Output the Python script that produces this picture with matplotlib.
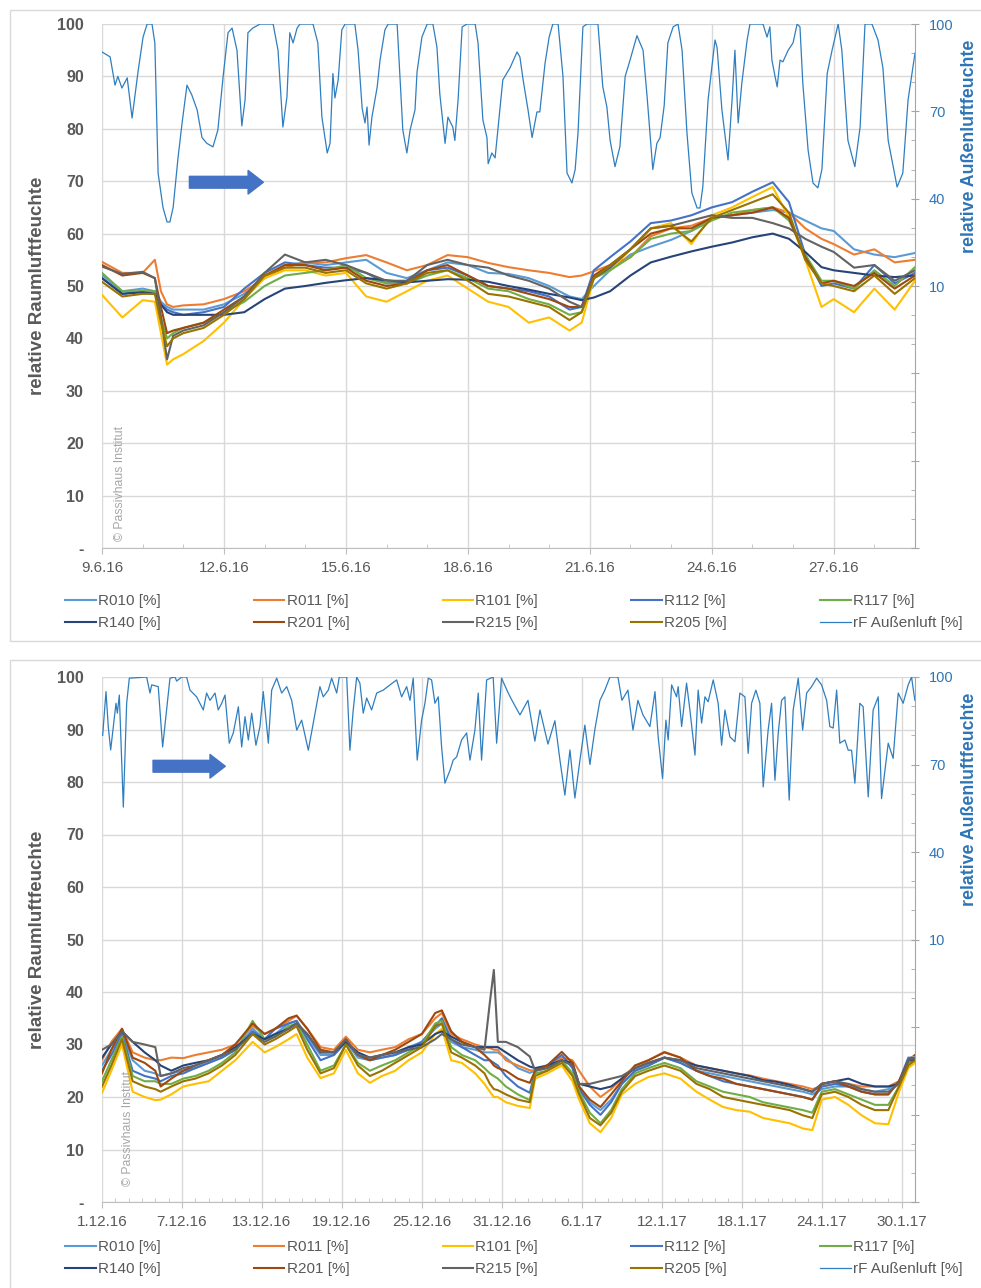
import matplotlib.pyplot as plt
from matplotlib.patches import Rectangle, FancyArrowPatch
from matplotlib.ticker import FixedLocator, MultipleLocator

plt.rcParams['font.family'] = ['Liberation Sans', 'DejaVu Sans']

# ---------------- June 2016 (days since 9.6.16) ----------------
jun_t = [0, 0.5, 1.0, 1.3, 1.45, 1.6, 1.75, 2.0, 2.5, 3.0,
         3.5, 4.0, 4.5, 5.0, 5.5, 6.0, 6.5, 7.0, 7.5, 8.0,
         8.5, 9.0, 9.5, 10.0, 10.5, 11.0, 11.5, 11.8, 12.1, 12.5,
         13.0, 13.5, 14.0, 14.5, 15.0, 15.5, 16.0, 16.5, 16.9, 17.3,
         17.7, 18.0, 18.5, 19.0, 19.5, 20.0]
jun_r010 = [52.1, 49, 49.5, 49, 47, 46, 45.5, 45.5, 45.5, 46.5,
            48.5, 51.5, 54, 54.5, 54, 54.5, 55, 52.5, 51.5, 53,
            54.5, 54, 52.5, 52.3, 51.5, 50, 48, 47.5, 50, 53,
            56, 57.5, 58.8, 60.5, 63, 63.5, 64, 64.5, 64, 62.5,
            61, 60.5, 57, 56, 55.5, 56.3]
jun_r011 = [54.6, 52.5, 52.5, 55, 49, 46.5, 46, 46.3, 46.5, 47.5,
            49, 51.5, 53.5, 54.5, 54.5, 55.3, 55.9, 54.5, 53, 54,
            55.9, 55.5, 54.4, 53.6, 53, 52.5, 51.7, 52, 52.8, 54,
            55.5, 59.5, 61, 61.5, 63, 63.5, 64.5, 65, 64, 61,
            59, 58, 56, 57, 54.5, 55]
jun_r101 = [48.3, 44, 47.3, 47, 41, 35, 36, 37, 39.5, 43,
            47.5, 51.5, 53, 53, 52, 52.5, 48, 47, 49, 51,
            52, 49.5, 47, 46, 43, 44, 41.5, 43, 51.5, 53,
            57, 61, 62, 58, 63.5, 65, 67, 68.9, 63, 55,
            46, 47.5, 45, 49.5, 45.5, 51]
jun_r112 = [51.5, 48.5, 49, 48.5, 46.5, 45.5, 45, 44.5, 45, 46,
            49.5, 52.5, 54.5, 54, 53.5, 53.5, 52.5, 50.5, 51, 53,
            53.5, 52, 50, 49.5, 49, 48, 45.5, 46, 53, 55.5,
            58.5, 62, 62.5, 63.5, 65, 66, 68, 69.8, 66, 56,
            50, 50.5, 49.5, 54, 50.5, 52.5]
jun_r117 = [52.5, 49, 49, 49, 44, 40, 41, 42, 43, 45,
            47, 50, 52, 52.5, 53, 54, 51.5, 50.5, 50.5, 52,
            53, 51.5, 49.5, 49, 47.5, 46.5, 44.5, 45, 51.5, 53,
            55.5, 59, 60, 60.5, 62.5, 64, 64.5, 65, 62.5, 56,
            51, 51, 49.5, 53, 50, 53.6]
jun_r140 = [51.5, 48.5, 48.8, 48.5, 46.5, 45, 44.5, 44.5, 44.5, 44.5,
            45, 47.5, 49.5, 50, 50.6, 51.1, 51.5, 51.1, 50.7, 51,
            51.3, 51.2, 50.8, 50, 49.3, 48.5, 47.8, 47.3, 47.8, 49,
            52, 54.5, 55.6, 56.6, 57.5, 58.3, 59.3, 60, 59, 56.5,
            53.6, 53, 52.5, 52, 51.7, 52]
jun_r201 = [54, 52, 52.5, 51.5, 46, 41, 41.5, 42, 43, 45.5,
            48, 52, 54, 54, 53, 53.5, 51, 50, 50.5, 53,
            54, 52, 50, 49.5, 48.5, 47.5, 46, 46, 52, 54,
            57, 60, 61, 61, 63, 63.5, 64, 65, 63, 55.5,
            50.5, 51, 50, 52.5, 49.5, 52]
jun_r215 = [53.7, 52.3, 52.7, 51.5, 44, 36, 40.5, 41.5, 42.5, 45,
            48, 52.5, 56, 54.5, 55, 54, 52.5, 51, 51, 54,
            55, 54, 53.5, 52, 51, 49.5, 47, 46, 51.5, 53.5,
            57, 61, 61.5, 62.5, 63.5, 63, 63, 62, 61, 59,
            57.5, 56.5, 53.5, 54, 51, 53]
jun_r205 = [50.8, 48, 48.5, 48.5, 43, 38.5, 40, 41, 42, 44.5,
            47.5, 52, 53.5, 53.5, 52.5, 53, 50.5, 49.5, 50.5, 52.5,
            53, 51, 48.5, 48, 47, 46, 43.5, 45, 51.5, 54,
            57, 61, 61.5, 58.5, 63, 64.5, 66, 67.5, 64, 55,
            50.5, 50, 49, 52, 48.5, 51.5]

jun_out_t = [0.0, 0.2, 0.32, 0.39, 0.49, 0.62, 0.74, 0.89, 1.01, 1.11,
             1.23, 1.30, 1.38, 1.50, 1.60, 1.67, 1.75, 1.87, 1.97, 2.09,
             2.21, 2.34, 2.46, 2.58, 2.73, 2.85, 2.98, 3.10, 3.20, 3.32,
             3.44, 3.52, 3.59, 3.71, 3.89, 4.21, 4.33, 4.45, 4.55, 4.62,
             4.70, 4.80, 4.87, 5.19, 5.31, 5.41, 5.54, 5.61, 5.68, 5.73,
             5.81, 5.90, 5.98, 6.22, 6.30, 6.40, 6.47, 6.52, 6.57, 6.64,
             6.77, 6.84, 6.96, 7.04, 7.26, 7.33, 7.40, 7.50, 7.58, 7.70,
             7.75, 7.87, 8.00, 8.14, 8.24, 8.31, 8.44, 8.51, 8.63, 8.68,
             8.76, 8.86, 8.98, 9.18, 9.25, 9.37, 9.47, 9.50, 9.59, 9.67,
             9.79, 9.86, 10.04, 10.21, 10.28, 10.36, 10.48, 10.58, 10.70, 10.77,
             10.90, 11.00, 11.09, 11.22, 11.34, 11.44, 11.56, 11.64, 11.71, 11.83,
             11.93, 12.20, 12.32, 12.42, 12.50, 12.62, 12.74, 12.87, 12.99, 13.16,
             13.31, 13.41, 13.55, 13.65, 13.73, 13.83, 13.92, 14.05, 14.17, 14.27,
             14.39, 14.51, 14.64, 14.71, 14.78, 14.91, 15.08, 15.13, 15.25, 15.40,
             15.50, 15.57, 15.65, 15.74, 15.87, 15.94, 16.26, 16.36, 16.43, 16.48,
             16.56, 16.61, 16.68, 16.75, 16.88, 17.00, 17.10, 17.17, 17.24, 17.37,
             17.49, 17.61, 17.71, 17.84, 17.96, 18.11, 18.20, 18.35, 18.52, 18.65,
             18.77, 18.94, 19.09, 19.21, 19.34, 19.56, 19.70, 19.83, 20.0]
jun_out = [90.4, 88.7, 79, 82, 78, 81.5, 67.7, 84, 95.5, 100,
           100, 93.5, 48.8, 37, 32, 32, 37, 54, 66, 79,
           75.6, 70.5, 61, 59, 57.8, 63.6, 82, 97, 98.6, 91,
           65, 74, 97, 98.6, 100, 100, 91, 64.6, 75, 97,
           93.5, 98.6, 100, 100, 93.5, 68, 55.7, 59, 83, 74.6,
           80.8, 98, 100, 100, 91, 71, 66, 71.5, 58.4, 68,
           78.4, 87.6, 98, 100, 100, 82, 63.6, 55.7, 63.6, 70.5,
           83.5, 95.5, 100, 100, 92, 76, 59, 68, 64.6, 60,
           74, 99, 100, 100, 93.5, 67, 61, 52, 55.7, 54,
           71, 80.8, 85, 90.4, 88.7, 80.8, 70.5, 61, 69.8, 69.8,
           86.6, 95.5, 100, 100, 82, 48.8, 45.4, 50, 62.6, 99,
           100, 100, 78.4, 71.5, 60, 51, 57.8, 82, 87.6, 96,
           91, 75, 50, 59, 61, 72, 93.5, 99, 100, 91,
           62.6, 42, 36.8, 36.8, 44, 74, 94.5, 92, 70.5, 53.3,
           74, 91, 66, 79.7, 94.5, 100, 100, 95.5, 99, 87.6,
           81.8, 78.4, 87.6, 87, 91, 93.5, 100, 99, 79.7, 56.7,
           45.4, 43.7, 50, 83, 91, 100, 91, 60, 51, 64.6,
           100, 100, 94.5, 85, 60, 44, 48.8, 74, 90]

jun_ticks = [0, 3, 6, 9, 12, 15, 18]
jun_labels = ['9.6.16', '12.6.16', '15.6.16', '18.6.16', '21.6.16', '24.6.16', '27.6.16']

# ---------------- Dec 2016 / Jan 2017 (days since 1.12.16) ----------------
dec_t = [0, 0.7, 1.5, 2.3, 3.2, 4.0, 4.4, 5.2, 6.1, 7.0, 8.0, 9.0,
         10.0, 11.3, 12.2, 13.0, 14.0, 14.6, 15.4, 16.4, 17.4, 18.3, 19.2, 20.1,
         21.0, 22.0, 23.0, 24.0, 25.0, 25.5, 26.2, 27.0, 28.0, 28.7, 29.1, 29.4,
         29.7, 30.3, 31.2, 32.1, 32.5, 33.4, 34.5, 35.3, 35.8, 36.6, 37.4, 38.2,
         39.0, 40.0, 41.0, 42.2, 43.4, 44.6, 45.6, 46.6, 47.6, 48.6, 49.6, 50.6,
         51.6, 52.6, 53.3, 54.0, 55.0, 56.0, 57.0, 58.0, 59.0, 59.8, 60.5, 61.0]
dec_r010 = [26, 29, 32, 27, 25, 24.5, 24, 24.5, 25, 25.5, 26.5, 27.5,
            29, 33, 31, 32, 34, 34.5, 31.5, 28, 28, 30.5, 27.5, 27,
            27.5, 28, 29.5, 30.5, 33, 34, 30.5, 29.5, 29, 28.5, 28.5, 28.5,
            28.5, 27.5, 25.5, 24.6, 25, 25.5, 27, 26, 22, 19, 17.5, 19.5,
            22.5, 25, 26, 27.5, 26.5, 25, 24.5, 24, 23.5, 23, 22.5, 22,
            21.5, 21, 20.5, 21.5, 22, 22, 21.5, 21, 21.5, 23, 26.5, 27]
dec_r011 = [27, 30.5, 33, 28.5, 27.5, 27, 27, 27.5, 27.4, 28, 28.5, 29,
            30, 33.5, 32, 33, 34.5, 35.5, 33, 29.5, 29, 31.5, 29, 28.5,
            29, 29.5, 31, 32, 35, 36, 32, 31, 30, 29.5, 29.3, 29,
            29, 27, 26, 25.1, 25, 26, 27.5, 27, 25, 22, 20, 21.5,
            23.5, 26, 27, 28.6, 27.5, 26, 25.5, 25, 24.5, 24.1, 23.5, 23,
            22.5, 22, 21.5, 22, 22.5, 22.5, 22, 22, 22, 23, 26.5, 27.5]
dec_r101 = [20.8, 25, 30, 21, 20, 19.4, 19.5, 20.5, 22, 22.5, 23, 25,
            27, 30.5, 28.5, 29.5, 31, 32, 27.5, 23.6, 24.5, 29, 24.5, 22.7,
            24, 25, 27, 28.5, 32, 33, 27, 26.5, 24.5, 22.5, 21, 20,
            20, 19, 18.3, 17.9, 23.5, 24.5, 26, 23, 19.5, 15, 13.3, 16,
            20.5, 22.5, 23.8, 24.5, 23.5, 21, 19.5, 18.1, 17.5, 17.2, 16, 15.5,
            15, 14, 13.7, 19.5, 20, 18.5, 16.5, 15, 14.8, 21, 25.5, 26.5]
dec_r112 = [25, 28, 32, 25, 24, 23.5, 23, 24, 24.5, 25.5, 26.5, 27.5,
            29, 32.5, 31, 33, 34, 34.5, 31, 27, 28, 30.5, 28, 27,
            27.5, 28, 29, 30.5, 33.5, 35, 31, 29.5, 28, 27, 27, 26.5,
            26, 24, 22, 20.8, 25, 26, 28, 25.5, 21.5, 18.5, 16.6, 19,
            22.5, 25, 26, 27.5, 26.5, 25, 24, 23, 22.5, 22, 21.5, 21,
            20.5, 20, 19.5, 22, 22.5, 22, 21, 20.5, 20.5, 23, 27.5, 27.5]
dec_r117 = [23, 27, 31.5, 24, 23, 23, 22.5, 22.5, 23.5, 24, 25, 26.5,
            28.5, 34.5, 31, 31.5, 33.5, 34, 30, 25, 26, 30, 26.5, 25,
            26, 27, 28.5, 30, 34, 34.5, 29.5, 28, 27, 25.5, 24.5, 24,
            23.5, 22, 20.5, 19.4, 24.5, 25, 27, 24.5, 21, 17, 15, 17.5,
            21.5, 24.5, 25.5, 26.5, 25.5, 23, 22, 21, 20.5, 20, 19, 18.5,
            18, 17.5, 17, 21, 21.5, 20.5, 19.5, 18.5, 18.5, 22, 26.5, 27]
dec_r140 = [27.5, 30, 32.5, 30.5, 28.5, 27, 26, 25, 26, 26.5, 27, 28,
            29.5, 32, 31, 32, 33, 34, 32, 28.5, 28.5, 30.5, 28.5, 27.5,
            28, 28.5, 29.5, 30, 32, 32.5, 31.5, 30.5, 29.5, 29.5, 29.5, 29.5,
            29.5, 28.5, 27, 25.8, 25.5, 26, 27, 26.5, 22.5, 22, 21.5, 22,
            23.5, 25.5, 26.5, 27.5, 27, 26, 25.5, 25, 24.5, 24, 23.2, 22.9,
            22.3, 21.5, 21, 22.5, 23, 23.5, 22.5, 22, 22, 22.5, 27, 27]
dec_r201 = [24.5, 29, 33, 27.5, 26.5, 25, 22, 23.5, 25, 26, 27, 28,
            30, 34, 32, 33, 35, 35.5, 33, 29, 28.5, 31, 28, 27,
            28, 29, 30.5, 32, 36, 36.5, 32.5, 30.5, 29.5, 28, 27, 26,
            25.5, 25, 23.5, 22.7, 25, 26, 28.6, 26.5, 22, 19.5, 18.1, 20.5,
            23, 26, 27, 28.5, 27.5, 25, 24, 23.5, 22.5, 22, 21.5, 21,
            20.5, 20, 19.5, 22.5, 23, 22, 21, 20.5, 20.5, 23, 27, 28]
dec_r215 = [29, 30, 32.5, 30.5, 30, 29.5, 24, 24.5, 25.5, 26, 27, 28,
            29, 32, 30.5, 31.5, 33, 34, 32, 28.5, 28.5, 31, 28, 27.5,
            28, 28.5, 29, 29.5, 31, 32, 31, 30, 29.5, 29, 38, 44.2,
            30.5, 30.5, 29.5, 27.7, 25, 25.5, 27, 26, 22.5, 22.5, 23, 23.5,
            24, 25.5, 26.5, 27.5, 27, 25.5, 25, 24.5, 24, 23.5, 23, 22.5,
            22, 21.5, 21, 22.5, 23, 22.5, 21.5, 21, 21, 22.5, 27, 27.5]
dec_r205 = [22, 26, 31, 23, 22, 21.5, 21, 22, 23, 23.5, 24.5, 26,
            28, 32, 30, 31, 32.5, 33.5, 29, 24.5, 25.5, 30, 26, 24,
            25, 26.5, 28, 29.5, 33.5, 34, 28.5, 27.5, 26, 24.5, 22.5, 21.5,
            21.3, 20.5, 19.5, 19, 24, 25, 26.5, 24, 20.5, 16, 14.6, 17,
            21, 24, 25, 26, 25, 22.5, 21.5, 20, 19.5, 19, 18.5, 18,
            17.5, 16.5, 16, 20.5, 21, 20, 18.5, 17.5, 17.5, 22, 26, 27]

dec_out_t = [0.05, 0.30, 0.47, 0.65, 0.85, 1.05, 1.15, 1.30, 1.60, 1.85,
             2.05, 3.35, 3.60, 3.73, 4.22, 4.55, 4.85, 5.10, 5.48, 5.60,
             5.98, 6.35, 6.60, 7.10, 7.60, 7.85, 8.10, 8.48, 8.72, 8.98,
             9.23, 9.55, 9.85, 10.23, 10.48, 10.73, 10.98, 11.23, 11.55, 11.85,
             12.10, 12.48, 12.73, 13.11, 13.48, 13.86, 14.23, 14.61, 14.98, 15.48,
             15.85, 16.35, 16.60, 16.98, 17.23, 17.61, 17.80, 18.36, 18.60, 18.85,
             19.11, 19.35, 19.60, 19.86, 20.23, 20.61, 21.10, 21.61, 22.11, 22.48,
             22.86, 23.11, 23.35, 23.65, 23.98, 24.23, 24.48, 24.73, 24.98, 25.23,
             25.48, 25.73, 26.11, 26.35, 26.61, 26.98, 27.36, 27.61, 27.98, 28.23,
             28.48, 28.86, 29.35, 29.61, 29.98, 30.48, 30.76, 31.36, 31.96, 32.48,
             32.86, 33.46, 33.98, 34.36, 34.73, 35.11, 35.48, 35.86, 36.23, 36.61,
             36.98, 37.36, 37.73, 38.11, 38.71, 39.01, 39.46, 39.84, 40.21, 40.59,
             41.11, 41.49, 41.73, 42.06, 42.31, 42.48, 42.74, 43.11, 43.23, 43.49,
             43.86, 44.11, 44.49, 44.73, 44.99, 45.24, 45.48, 45.86, 46.23, 46.49,
             46.74, 47.11, 47.49, 47.86, 48.24, 48.48, 48.74, 49.06, 49.36, 49.61,
             49.98, 50.24, 50.49, 50.74, 50.99, 51.24, 51.56, 51.86, 52.24, 52.57,
             52.87, 53.24, 53.62, 53.99, 54.37, 54.61, 54.86, 55.12, 55.36, 55.74,
             55.99, 56.24, 56.49, 56.86, 57.11, 57.49, 57.86, 58.24, 58.49, 58.99,
             59.36, 59.74, 60.11, 60.49, 60.74, 60.99]
dec_out = [80, 95, 83, 75, 83, 91, 87.6, 93.8, 55.4, 91,
           99.6, 100, 94.5, 97.3, 96.7, 76, 88.7, 99.6, 100, 98.6,
           100, 100, 95.5, 93.2, 88.7, 94.5, 92, 94.5, 88.7, 91,
           93.8, 77.3, 80.8, 89.8, 76, 86.4, 78.4, 87.6, 76.6, 83,
           95, 77.3, 95.5, 99.6, 94.5, 96.7, 92, 81.8, 85.2, 74.9,
           84.2, 96.7, 93.2, 95.5, 99.6, 94.5, 100, 100, 74.9, 88.7,
           100, 97.9, 87.6, 92.8, 88.7, 94.5, 95.5, 97.3, 99, 93.2,
           96.7, 92, 99.6, 71.5, 85.2, 91, 99.6, 99, 91, 93.2,
           76, 63.6, 68, 71.5, 72.6, 78.4, 80.8, 71.5, 81.8, 94.5,
           71.5, 99, 100, 77.3, 99.6, 94.5, 92, 87, 92, 78,
           88.7, 77, 85, 71.5, 59.5, 75, 58.5, 71.5, 83.5, 70,
           82, 92, 95.5, 100, 100, 92, 95.5, 81.8, 92, 87,
           83, 95, 79.5, 65.2, 85.2, 78.4, 97.3, 93.2, 96.7, 83,
           97.9, 88.7, 73.2, 95.5, 84.2, 93.2, 91.5, 99, 91, 76.6,
           88.7, 79.5, 77.8, 94.5, 93.2, 73.8, 91, 95.5, 91, 62.3,
           81.8, 91, 64.6, 80.8, 92, 93.2, 57.8, 88.7, 99.6, 81.8,
           94.5, 96.7, 99.6, 97.3, 92, 83, 82.5, 95.5, 77.3, 78.4,
           74.9, 74.9, 63.6, 91, 89.8, 58.9, 88.7, 93.2, 58.3, 77.3,
           72.1, 94.5, 91, 97.3, 100, 92]

dec_ticks = [0, 6, 12, 18, 24, 30, 36, 42, 48, 54, 60]
dec_labels = ['1.12.16', '7.12.16', '13.12.16', '19.12.16', '25.12.16', '31.12.16',
              '6.1.17', '12.1.17', '18.1.17', '24.1.17', '30.1.17']

room_names = ['R010 [%]', 'R011 [%]', 'R101 [%]', 'R112 [%]', 'R117 [%]',
              'R140 [%]', 'R201 [%]', 'R215 [%]', 'R205 [%]']
room_colors = ['#5B9BD5', '#ED7D31', '#FFC000', '#4472C4', '#70AD47',
               '#264478', '#9E480E', '#636363', '#997300']
out_name = 'rF Außenluft [%]'
out_color = '#2F7EC0'

W, H = 981, 1288
fig = plt.figure(figsize=(W / 100, H / 100), dpi=100)
grey = '#595959'
blue_txt = '#2E75B6'


def panel(top, bottom, frame, t, rooms, out_t, out_v, span, ticks, labels,
          arrow_x, arrow_y, mark_x, mark_y, leg_y):
    fig.add_artist(Rectangle((10 / W, 1 - frame[1] / H), 990 / W, (frame[1] - frame[0]) / H,
                             transform=fig.transFigure, fill=False, ec='#D9D9D9', lw=1))
    ax = fig.add_axes([102 / W, 1 - bottom / H, 813 / W, (bottom - top) / H])
    lines = []
    for vals, c, n in zip(rooms, room_colors, room_names):
        lines.append(ax.plot(t, vals, color=c, lw=1.5, label=n)[0])
    ax.set_xlim(0, span)
    ax.set_ylim(0, 100)
    ax.set_yticks(range(0, 101, 10))
    ax.set_yticklabels(['-'] + [str(v) for v in range(10, 101, 10)])
    ax.tick_params(axis='y', length=0, pad=13, labelsize=11.5, labelcolor=grey)
    for lab in ax.get_yticklabels():
        lab.set_fontweight('bold')
    ax.set_xticks(ticks)
    ax.set_xticklabels(labels)
    ax.xaxis.set_minor_locator(MultipleLocator(1))
    ax.tick_params(axis='x', which='major', direction='out', length=4, color='#BFBFBF',
                   labelsize=11, labelcolor=grey, pad=5)
    ax.tick_params(axis='x', which='minor', direction='in', length=3, color='#BFBFBF')
    ax.grid(color='#D9D9D9', lw=1)
    ax.set_axisbelow(True)
    for s in ['left', 'top', 'right']:
        ax.spines[s].set_visible(False)
    ax.spines['bottom'].set_color('#BFBFBF')

    ax2 = ax.twinx()
    out_line, = ax2.plot(out_t, out_v, color=out_color, lw=0.9, label=out_name)
    ax2.set_ylim(-80, 100)
    ax2.yaxis.set_major_locator(FixedLocator([-80, -50, -20, 10, 40, 70, 100]))
    ax2.set_yticklabels(['', '', '', '10', '40', '70', '100'])
    ax2.yaxis.set_minor_locator(MultipleLocator(10))
    ax2.tick_params(axis='y', which='major', direction='inout', length=6, color='#A6A6A6',
                    labelcolor=blue_txt, labelsize=10.5, pad=7)
    ax2.tick_params(axis='y', which='minor', direction='in', length=3, color='#A6A6A6')
    for s in ['left', 'top', 'bottom']:
        ax2.spines[s].set_visible(False)
    ax2.spines['right'].set_color('#A6A6A6')

    ax.add_patch(FancyArrowPatch((arrow_x[0], arrow_y), (arrow_x[1], arrow_y),
                                 arrowstyle='simple,head_length=11,head_width=17,tail_width=8.5',
                                 mutation_scale=1, shrinkA=0, shrinkB=0,
                                 color='#4472C4', zorder=5))

    mid = 1 - (top + bottom) / 2 / H
    fig.text(38 / W, mid, 'relative Raumluftfeuchte', rotation=90, ha='center', va='center',
             fontsize=13.5, fontweight='bold', color=grey)
    fig.text(970 / W, 1 - (top + 122) / H, 'relative Außenluftfeuchte', rotation=90,
             ha='center', va='center', fontsize=12.8, fontweight='bold', color=blue_txt)
    fig.text(mark_x / W, 1 - mark_y / H, '© Passivhaus Institut', rotation=90,
             ha='center', va='bottom', fontsize=8.8, color='#A6A6A6')

    items = lines + [out_line]
    order = [0, 5, 1, 6, 2, 7, 3, 8, 4, 9]
    fig.legend([items[i] for i in order], [items[i].get_label() for i in order],
               ncol=5, loc='upper left', bbox_to_anchor=(65 / W, 1 - leg_y / H),
               frameon=False, fontsize=11, handlelength=2.0, handletextpad=0.15,
               columnspacing=6.1, labelspacing=0.55, borderpad=0, borderaxespad=0,
               labelcolor=grey)


panel(24, 548, (10, 641), jun_t,
      [jun_r010, jun_r011, jun_r101, jun_r112, jun_r117, jun_r140, jun_r201, jun_r215, jun_r205],
      jun_out_t, jun_out, 20, jun_ticks, jun_labels,
      (2.15, 3.97), 69.8, 120, 541, 594)
panel(677, 1202, (660, 1295), dec_t,
      [dec_r010, dec_r011, dec_r101, dec_r112, dec_r117, dec_r140, dec_r201, dec_r215, dec_r205],
      dec_out_t, dec_out, 61, dec_ticks, dec_labels,
      (3.83, 9.25), 83, 128, 1186, 1240)

fig.savefig('out.png', dpi=100)
